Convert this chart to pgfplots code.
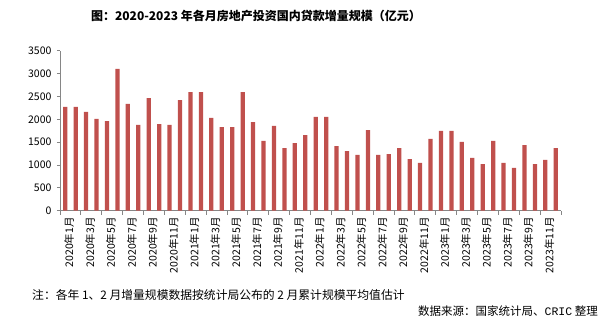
\documentclass[border=0pt]{standalone}
\usepackage{pgfplots}
\pgfplotsset{compat=1.18}
\usepackage{fontspec}
\setmainfont{Noto Sans CJK SC}
\newfontfamily\monofont{Liberation Mono}
\definecolor{barred}{HTML}{C0504D}
\definecolor{axisgray}{HTML}{868686}
\begin{document}
\begin{tikzpicture}
\useasboundingbox (0pt,0pt) rectangle (602pt,334pt);
\begin{axis}[
  at={(60pt,123.3pt)}, anchor=south west,
  scale only axis, width=501pt, height=160pt,
  xmin=0.5, xmax=48.5, ymin=0, ymax=3500,
  axis lines=left,
  axis line style={draw=axisgray, line width=0.8pt, -},
  ytick={0,500,...,3500},
  xtick={1,3,...,47},
  minor xtick={0.5,2.5,...,48.5},
  major tick length=3pt,
  minor tick length=4pt,
  every tick/.style={draw=axisgray, line width=0.8pt},
  xtick style={draw=none},
  minor x tick style={draw=axisgray, line width=0.8pt},
  tick align=outside,
  scaled y ticks=false,
  /pgf/number format/1000 sep={},
  /pgf/number format/assume math mode=true,
  yticklabel style={font=\fontsize{10.5}{12}\selectfont, xshift=-2pt},
  xticklabel style={font=\fontsize{10.5}{12}\selectfont, rotate=90, anchor=east, yshift=-4pt},
  xticklabels={2020年1月,2020年3月,2020年5月,2020年7月,2020年9月,2020年11月,
    2021年1月,2021年3月,2021年5月,2021年7月,2021年9月,2021年11月,
    2022年1月,2022年3月,2022年5月,2022年7月,2022年9月,2022年11月,
    2023年1月,2023年3月,2023年5月,2023年7月,2023年9月,2023年11月},
  clip=false,
]
\addplot[ybar, bar width=4.3pt, fill=barred, draw=none] coordinates {
(1,2270) (2,2270) (3,2160) (4,2010) (5,1960) (6,3100) (7,2335) (8,1875)
(9,2465) (10,1895) (11,1875) (12,2420) (13,2595) (14,2595) (15,2030) (16,1830)
(17,1830) (18,2595) (19,1940) (20,1525) (21,1855) (22,1370) (23,1480) (24,1655)
(25,2050) (26,2050) (27,1415) (28,1305) (29,1220) (30,1765) (31,1220) (32,1240)
(33,1370) (34,1130) (35,1045) (36,1570) (37,1745) (38,1745) (39,1505) (40,1155)
(41,1020) (42,1525) (43,1045) (44,935) (45,1435) (46,1020) (47,1110) (48,1370)
};
\end{axis}
\node[font=\fontsize{12}{14}\selectfont\bfseries, inner sep=0pt] at (256pt,318pt) {图：2020-2023 年各月房地产投资国内贷款增量规模（亿元）};
\node[font=\fontsize{11.8}{13}\selectfont, anchor=west, inner sep=0pt] at (32pt,39pt) {注：各年 1、2 月增量规模数据按统计局公布的 2 月累计规模平均值估计};
\node[font=\fontsize{11.5}{13}\selectfont, anchor=east, inner sep=0pt] at (598pt,23pt) {数据来源：国家统计局、{\monofont CRIC} 整理};
\end{tikzpicture}
\end{document}
